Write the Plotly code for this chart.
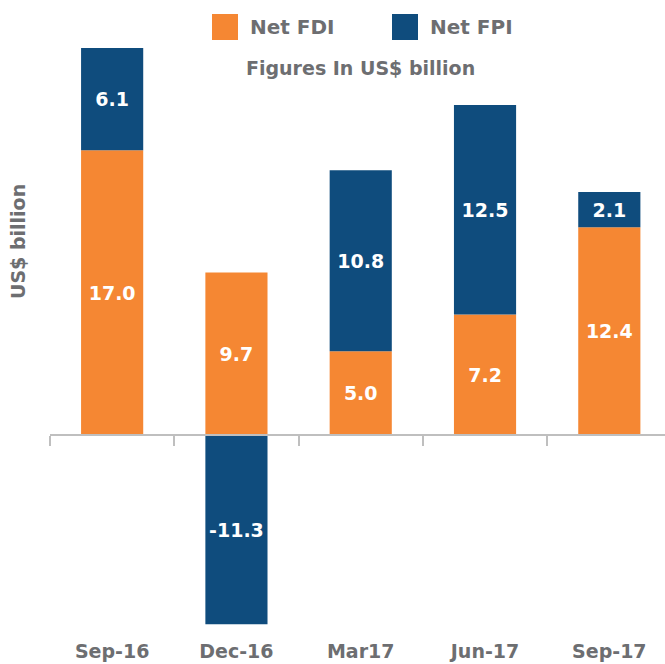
import plotly.graph_objects as go

quarters = ["Sep-16", "Dec-16", "Mar17", "Jun-17", "Sep-17"]
net_fdi = [17.0, 9.7, 5.0, 7.2, 12.4]
net_fpi = [6.1, -11.3, 10.8, 12.5, 2.1]

ORANGE = "#F58733"
BLUE = "#0F4C7D"
GRAY = "#6D6E71"
FONT = "DejaVu Sans"

fig = go.Figure()
for name, vals, col in [("Net FDI", net_fdi, ORANGE), ("Net FPI", net_fpi, BLUE)]:
    fig.add_trace(go.Bar(
        x=quarters, y=vals, name=name, marker=dict(color=col, line=dict(width=0)),
        width=0.5, text=[f"<b>{v:.1f}</b>" for v in vals], textposition="inside",
        insidetextanchor="middle", constraintext="none",
        textfont=dict(family=FONT, size=19, color="white"), showlegend=False,
    ))

# invisible trace for the zero-line axis
fig.add_trace(go.Scatter(x=[0], y=[0], xaxis="x2", mode="markers",
                         marker=dict(opacity=0), showlegend=False, hoverinfo="skip"))

fig.update_layout(
    width=665, height=664, barmode="relative",
    margin=dict(l=50, r=0, t=40, b=34),
    paper_bgcolor="white", plot_bgcolor="white",
    font=dict(family=FONT, color=GRAY),
    xaxis=dict(type="category", range=[-0.5, 4.448], showline=False, showgrid=False,
               zeroline=False, ticks="outside", ticklen=4, tickcolor="rgba(0,0,0,0)",
               automargin=False, tickmode="array", tickvals=quarters,
               ticktext=[f"<b>{q}</b>" for q in quarters],
               tickfont=dict(family=FONT, size=19, color=GRAY)),
    xaxis2=dict(overlaying="x", anchor="free", position=(630 - 435) / 590, range=[-0.5, 4.448],
                tickmode="array", tickvals=[-0.5, 0.5, 1.5, 2.5, 3.5], showticklabels=False,
                ticks="outside", ticklen=10, tickcolor="#BFBFBF", tickwidth=1.5, automargin=False,
                showline=True, linecolor="#BFBFBF", linewidth=1.5, showgrid=False, zeroline=False),
    yaxis=dict(range=[-11.64, 23.58], visible=False, showgrid=False, zeroline=False,
               automargin=False),
    showlegend=False,
)

# legend-like keys
fig.add_shape(type="rect", xref="paper", yref="paper",
              x0=(212 - 50) / 615, x1=(238 - 50) / 615, y0=(630 - 40) / 590, y1=(630 - 14) / 590,
              fillcolor=ORANGE, line=dict(width=0))
fig.add_shape(type="rect", xref="paper", yref="paper",
              x0=(392 - 50) / 615, x1=(418 - 50) / 615, y0=(630 - 40) / 590, y1=(630 - 14) / 590,
              fillcolor=BLUE, line=dict(width=0))
fig.add_annotation(text="<b>Net FDI</b>", xref="paper", yref="paper", x=(248 - 50) / 615,
                   y=(630 - 27) / 590, xanchor="left", yanchor="middle", showarrow=False,
                   font=dict(family=FONT, size=20, color=GRAY))
fig.add_annotation(text="<b>Net FPI</b>", xref="paper", yref="paper", x=(428 - 50) / 615,
                   y=(630 - 27) / 590, xanchor="left", yanchor="middle", showarrow=False,
                   font=dict(family=FONT, size=20, color=GRAY))
fig.add_annotation(text="<b>Figures In US$ billion</b>", xref="paper", yref="paper",
                   x=(360 - 50) / 615, y=(630 - 68) / 590, xanchor="center", yanchor="middle",
                   showarrow=False, font=dict(family=FONT, size=19, color=GRAY))
fig.add_annotation(text="<b>US$ billion</b>", xref="paper", yref="paper", x=(18 - 50) / 615,
                   y=(630 - 242) / 590, xanchor="center", yanchor="middle", textangle=-90,
                   showarrow=False, font=dict(family=FONT, size=19, color=GRAY))

fig.write_html("out.html", config={"displayModeBar": False},
               post_script="document.body.style.margin='0';")
